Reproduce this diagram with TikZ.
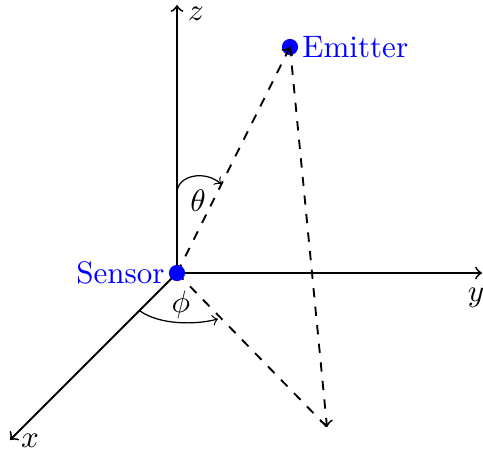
\documentclass[tikz,border=0pt]{standalone}
\begin{document}
\begin{tikzpicture}[x=0.322pt,y=-0.322pt,
  axis/.style={semithick,->},
  dline/.style={semithick,dashed},
  dot/.style={circle,fill=blue,inner sep=0pt,minimum size=5.2pt},
  blab/.style={text=blue}]
\useasboundingbox (0,0) rectangle (483,451);
\coordinate (O) at (177,273);
\coordinate (zend) at (177,5);
\coordinate (yend) at (482,273);
\coordinate (xend) at (10,440);
\coordinate (P) at (327,427);
\node[dot] (E) at (290,47) {};
\draw[axis] (O) -- (zend);
\node[inner sep=0pt] (zl) at (196,14) {$z$};
\draw[axis] (O) -- (yend);
\node[anchor=north,inner sep=1pt] (yl) at (476,284) {$y$};
\draw[axis] (O) -- (xend);
\node[inner sep=0pt] (xl) at (30,441) {$x$};
\draw[dline,->] (O) -- (E.center);
\draw[dline] (O) -- (P);
\draw[dline,->] (E.center) -- (P);
\node[dot] (S) at (O) {};
\node[blab,right,inner sep=1pt] (el) at (E.east) {Emitter};
\node[blab,left,inner sep=1pt] (sl) at (S.west) {Sensor};
\coordinate (ta) at (177,193);
\coordinate (tb) at (221,184);
\draw[->] (ta) .. controls (177,175) and (205,170) .. (tb);
\node (th) at (198,201) {$\theta$};
\coordinate (pa) at (140,311);
\coordinate (pb) at (218,319);
\draw[->] (pa) .. controls (160,325) and (195,325) .. (pb);
\node (ph) at (181,305) {$\phi$};
\end{tikzpicture}
\end{document}
